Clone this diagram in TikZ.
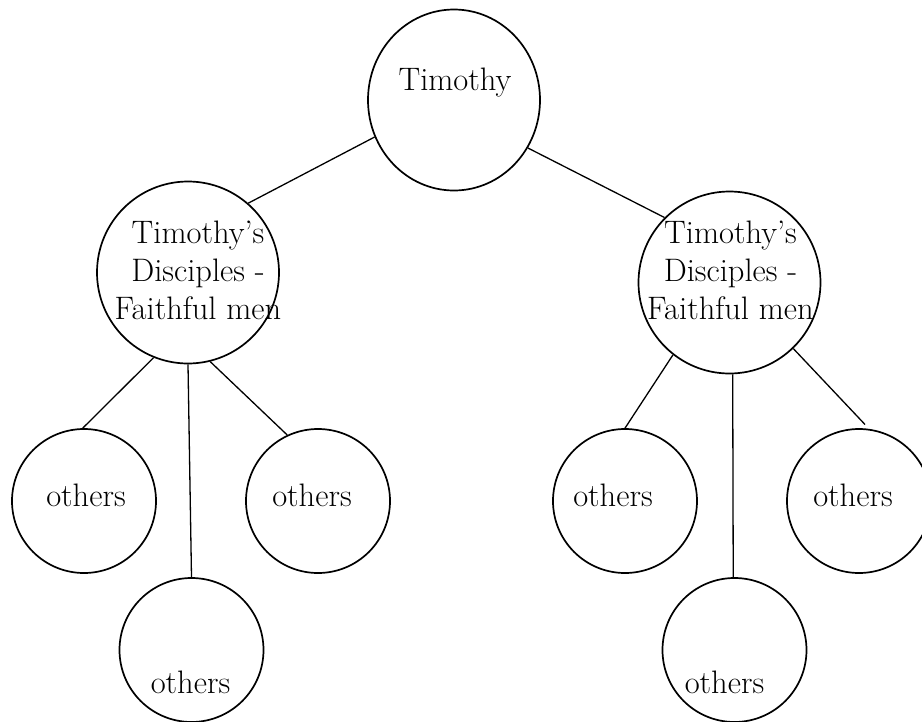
\documentclass[tikz,border=0pt]{standalone}
\usepackage{tikz}
\usetikzlibrary{shapes.geometric}
\tikzset{
  % Common styles for the tree
  edge/.style={draw, line width=1.3pt},
  txt/.style={font=\fontsize{32.5pt}{38pt}\selectfont, align=center}
}

\begin{document}
\begin{tikzpicture}[x=1pt, y=-1pt]
    % Define styles
    \tikzstyle{other} = [circle, draw, line width=1.7pt, minimum size=144pt, inner sep=0pt]
    \tikzstyle{disciple} = [other, minimum size=182pt]
    \tikzstyle{root} = [ellipse, draw, line width=1.7pt, minimum width=172pt, minimum height=181pt, inner sep=0pt]

    \useasboundingbox (0,0) rectangle (922,721);

    % Place nodes
    \node [root, label={[txt, xshift=1pt, yshift=17pt]center:Timothy}] (timothy) at (454,100) {};
    \node [disciple, label={[txt, xshift=10pt, yshift=2.5pt]center:Timothy's\\Disciples -\\Faithful men}] (leftdisc) at (188,272.5) {};
    \node [disciple, label={[txt, xshift=1pt, yshift=12.5pt]center:Timothy's\\Disciples -\\Faithful men}] (rightdisc) at (729.5,282.5) {};
    \node [other, label={[txt, xshift=2pt, yshift=6pt]center:others}] (lefta) at (84,501) {};
    \node [other, label={[txt, xshift=-1pt, yshift=-32pt]center:others}] (leftb) at (191.5,650) {};
    \node [other, label={[txt, xshift=-6pt, yshift=6pt]center:others}] (leftc) at (318,501) {};
    \node [other, label={[txt, xshift=-12pt, yshift=6pt]center:others}] (righta) at (625,501) {};
    \node [other, label={[txt, xshift=-10pt, yshift=-32pt]center:others}] (rightb) at (734.5,650) {};
    \node [other, label={[txt, xshift=-6pt, yshift=6pt]center:others}] (rightc) at (859,501) {};

    % Draw edges
    \path [edge] (timothy.205) -- (leftdisc.49);
    \path [edge] (timothy.327) -- (rightdisc.135);
    \path [edge] (leftdisc.248) -- (lefta.91);
    \path [edge] (leftdisc.270) -- (leftb.90);
    \path [edge] (leftdisc.284) -- (leftc.115);
    \path [edge] (rightdisc.232) -- (righta.90);
    \path [edge] (rightdisc.272) -- (rightb.91);
    \path [edge, shorten >=6pt] (rightdisc.314) -- (rightc.82);

\end{tikzpicture}
\end{document}
